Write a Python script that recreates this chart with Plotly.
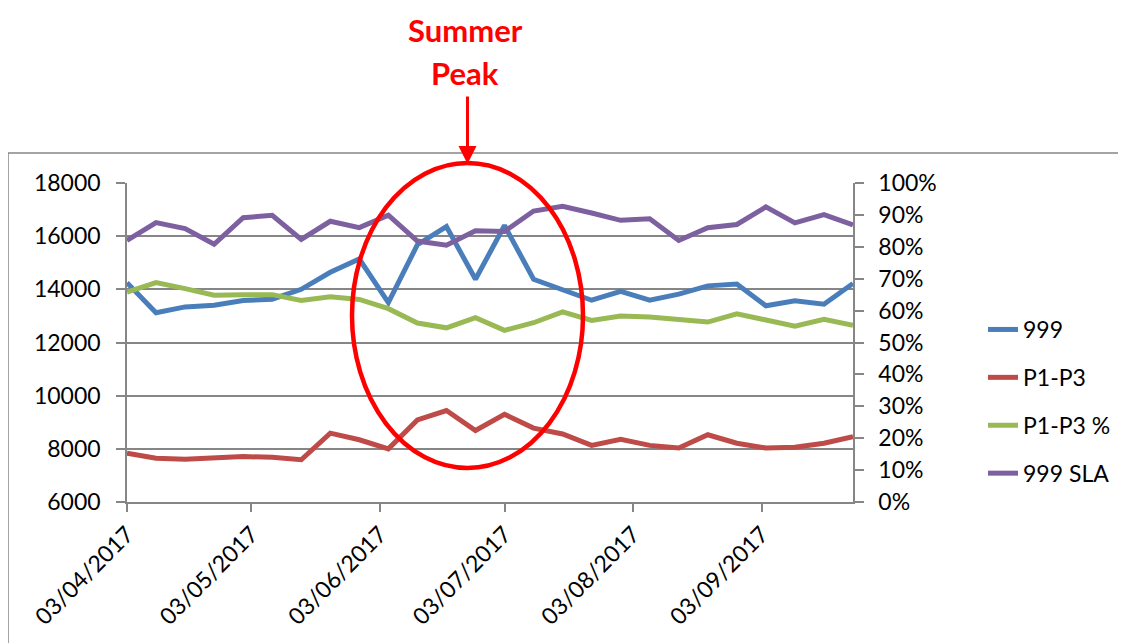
import plotly.graph_objects as go

dates = ["2017-04-03", "2017-04-10", "2017-04-17", "2017-04-24", "2017-05-01",
         "2017-05-08", "2017-05-15", "2017-05-22", "2017-05-29", "2017-06-05",
         "2017-06-12", "2017-06-19", "2017-06-26", "2017-07-03", "2017-07-10",
         "2017-07-17", "2017-07-24", "2017-07-31", "2017-08-07", "2017-08-14",
         "2017-08-21", "2017-08-28", "2017-09-04", "2017-09-11", "2017-09-18",
         "2017-09-25"]

calls_999 = [14250, 13120, 13340, 13400, 13580, 13630, 14000, 14640, 15140, 13500,
             15680, 16360, 14380, 16400, 14380, 14000, 13590, 13920, 13590, 13820,
             14130, 14200, 13380, 13570, 13440, 14220]

p1_p3 = [7840, 7650, 7610, 7640, 7710, 7680, 7590, 8590, 8340, 8000,
         9090, 9440, 8690, 9300, 8780, 8560, 8130, 8360, 8130, 8030,
         8530, 8210, 8030, 8060, 8210, 8460]

p1_p3_pct = [0.658, 0.688, 0.669, 0.648, 0.650, 0.650, 0.632, 0.643, 0.635, 0.606,
             0.561, 0.546, 0.578, 0.538, 0.562, 0.596, 0.569, 0.583, 0.580, 0.573,
             0.564, 0.590, 0.569, 0.551, 0.573, 0.554]

sla_999 = [0.820, 0.876, 0.857, 0.808, 0.891, 0.899, 0.823, 0.880, 0.860, 0.899,
           0.818, 0.805, 0.850, 0.848, 0.912, 0.927, 0.906, 0.883, 0.888, 0.820,
           0.860, 0.870, 0.925, 0.875, 0.901, 0.869]

month_ticks = ["2017-04-03", "2017-05-03", "2017-06-03", "2017-07-03", "2017-08-03", "2017-09-03"]
month_labels = ["03/04/2017", "03/05/2017", "03/06/2017", "03/07/2017", "03/08/2017", "03/09/2017"]

FONT = "Lato, 'Liberation Sans', sans-serif"
GRID = "#868686"
W, H = 1126, 643
OFF = 8  # page body margin
L, R, T, B = 127 - OFF, 853 - OFF, 183 - OFF, 502 - OFF

def px(xp):
    return (xp - OFF - L) / (R - L)

def py(yp):
    return (B - (yp - OFF)) / (B - T)

fig = go.Figure()
fig.add_trace(go.Scatter(x=dates, y=calls_999, name="999", mode="lines",
                         line=dict(color="#4A7EBB", width=5), legendgroup="a"))
fig.add_trace(go.Scatter(x=dates, y=p1_p3, name="P1-P3", mode="lines",
                         line=dict(color="#BE4B48", width=5), legendgroup="b"))
fig.add_trace(go.Scatter(x=dates, y=p1_p3_pct, name="P1-P3 %", mode="lines", yaxis="y2",
                         line=dict(color="#98B954", width=5), legendgroup="c"))
fig.add_trace(go.Scatter(x=dates, y=sla_999, name="999 SLA", mode="lines", yaxis="y2",
                         line=dict(color="#7D60A0", width=5), legendgroup="d"))

fig.update_layout(
    width=W, height=H,
    margin=dict(l=L, r=W - R, t=T, b=H - B, pad=0),
    paper_bgcolor="white", plot_bgcolor="white",
    font=dict(family=FONT, size=23, color="black"),
    showlegend=True,
    legend=dict(x=px(983), y=py(308), xanchor="left", yanchor="top",
                tracegroupgap=15, font=dict(size=23), bgcolor="rgba(0,0,0,0)"),
    xaxis=dict(type="date", range=["2017-04-03", "2017-09-25"],
               tickvals=month_ticks, ticktext=month_labels, tickangle=-45,
               showgrid=False, showline=True, linecolor=GRID, linewidth=1.5,
               ticks="outside", ticklen=8, tickcolor=GRID, tickwidth=1.5,
               zeroline=False),
    yaxis=dict(range=[6000, 18000], dtick=2000, tick0=6000, tickformat="d",
               showgrid=True, gridcolor=GRID, gridwidth=1.5,
               showline=True, linecolor=GRID, linewidth=1.5,
               ticks="outside", ticklen=9, tickcolor=GRID, tickwidth=1.5,
               ticklabelstandoff=11, zeroline=False),
    yaxis2=dict(range=[0, 1], dtick=0.1, tick0=0, tickformat=".0%",
                overlaying="y", side="right", showgrid=False,
                showline=True, linecolor=GRID, linewidth=1.5,
                ticks="outside", ticklen=9, tickcolor=GRID, tickwidth=1.5,
                ticklabelstandoff=10, zeroline=False),
    shapes=[
        dict(type="rect", xref="paper", yref="paper",
             x0=px(8), x1=px(1150), y0=py(153), y1=py(700),
             line=dict(color=GRID, width=1.5), fillcolor="rgba(0,0,0,0)", layer="below"),
        dict(type="circle", xref="paper", yref="paper",
             x0=px(352), x1=px(583), y0=py(468), y1=py(163),
             line=dict(color="#FF0000", width=4.5), fillcolor="rgba(0,0,0,0)", layer="above"),
    ],
    annotations=[
        dict(text="<b>Summer</b>", xref="paper", yref="paper", x=px(465), y=py(30),
             xanchor="center", yanchor="middle", showarrow=False, borderpad=0,
             font=dict(family=FONT, size=31, color="#FF0000")),
        dict(text="<b>Peak</b>", xref="paper", yref="paper", x=px(465), y=py(73),
             xanchor="center", yanchor="middle", showarrow=False, borderpad=0,
             font=dict(family=FONT, size=31, color="#FF0000")),
        dict(text="", xref="paper", yref="paper", x=px(467.5), y=py(164),
             ax=0, ay=-69, showarrow=True, arrowhead=2, arrowsize=1.2, arrowwidth=3,
             arrowcolor="#FF0000"),
    ],
)

fig.write_html("out.html")
